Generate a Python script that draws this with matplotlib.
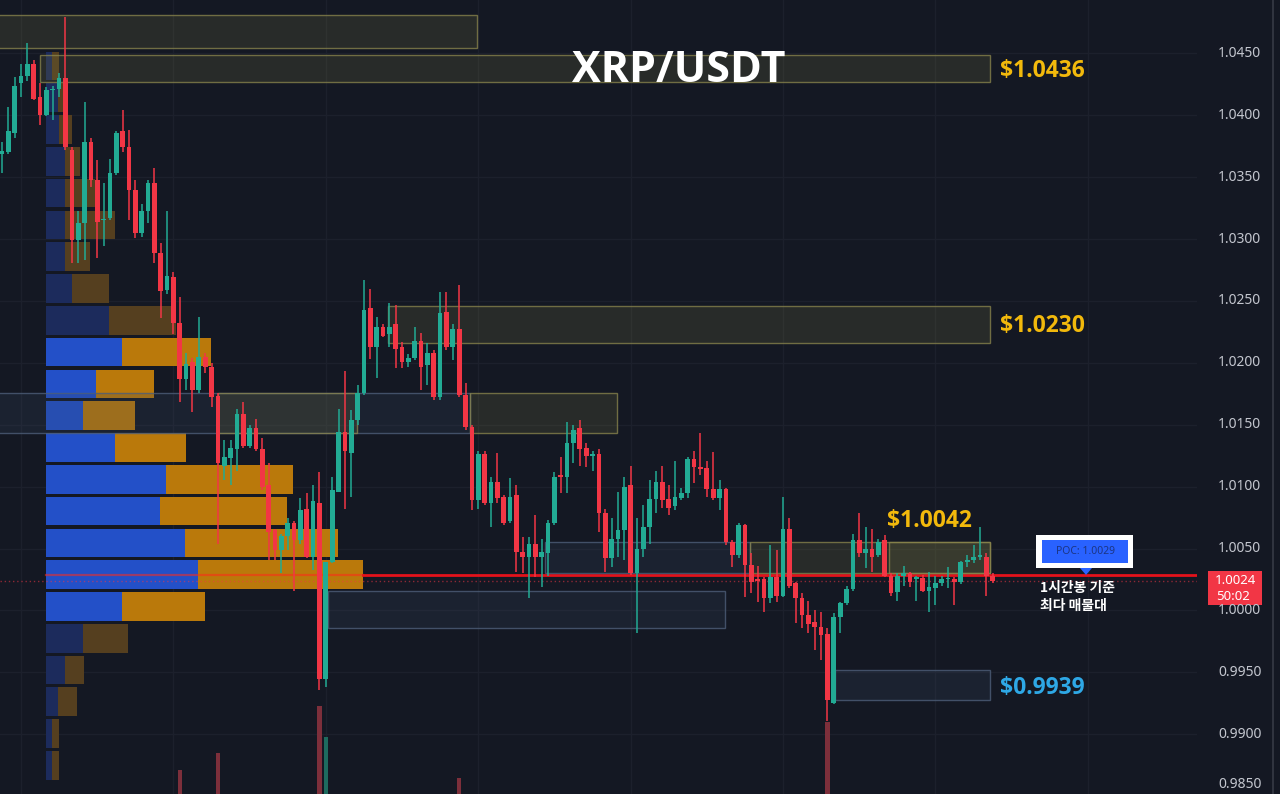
import matplotlib
matplotlib.use("Agg")
import matplotlib.pyplot as plt
from matplotlib.patches import Rectangle, Polygon
import numpy as np

# ---------------- data (1h candles, XRP/USDT) ----------------
OPEN = [1.0369, 1.0370, 1.0386, 1.0426, 1.0432, 1.0441, 1.0415, 1.0400, 1.0420, 1.0421,
        1.0430, 1.0372, 1.0299, 1.0313, 1.0378, 1.0348, 1.0315, 1.0317, 1.0353, 1.0387,
        1.0374, 1.0340, 1.0305, 1.0323, 1.0345, 1.0289, 1.0259, 1.0269, 1.0232, 1.0187,
        1.0201, 1.0178, 1.0205, 1.0197, 1.0173, 1.0117, 1.0123, 1.0130, 1.0159, 1.0133,
        1.0147, 1.0130, 1.0101, 1.0065, 1.0049, 1.0060, 1.0071, 1.0057, 1.0082, 1.0043,
        1.0087, 0.9945, 1.0039, 1.0096, 1.0144, 1.0127, 1.0154, 1.0176, 1.0244, 1.0213,
        1.0229, 1.0223, 1.0231, 1.0213, 1.0201, 1.0204, 1.0218, 1.0198, 1.0208, 1.0172,
        1.0241, 1.0213, 1.0227, 1.0174, 1.0148, 1.0089, 1.0126, 1.0087, 1.0104, 1.0092,
        1.0072, 1.0093, 1.0047, 1.0043, 1.0054, 1.0043, 1.0046, 1.0071, 1.0109, 1.0108,
        1.0135, 1.0147, 1.0131, 1.0125, 1.0126, 1.0079, 1.0042, 1.0058, 1.0065, 1.0101,
        1.0030, 1.0050, 1.0067, 1.0090, 1.0104, 1.0090, 1.0084, 1.0091, 1.0095, 1.0122,
        1.0116, 1.0115, 1.0098, 1.0091, 1.0098, 1.0055, 1.0045, 1.0069, 1.0037, 1.0025,
        1.0025, 1.0010, 1.0027, 1.0012, 1.0066, 1.0022, 1.0010, 0.9996, 0.9991, 0.9987,
        0.9981, 0.9925, 0.9995, 1.0006, 1.0017, 1.0057, 1.0046, 1.0050, 1.0045, 1.0057,
        1.0028, 1.0015, 1.0028, 1.0030, 1.0025, 1.0026, 1.0016, 1.0018, 1.0022, 1.0025,
        1.0025, 1.0023, 1.0039, 1.0041, 1.0043, 1.0043, 1.0028]
HIGH = [1.0378, 1.0407, 1.0431, 1.0441, 1.0458, 1.0445, 1.0426, 1.0423, 1.0424, 1.0434,
        1.0479, 1.0374, 1.0323, 1.0411, 1.0382, 1.0364, 1.0345, 1.0365, 1.0387, 1.0404,
        1.0388, 1.0348, 1.0328, 1.0348, 1.0357, 1.0297, 1.0323, 1.0273, 1.0253, 1.0208,
        1.0204, 1.0237, 1.0208, 1.0200, 1.0176, 1.0138, 1.0138, 1.0163, 1.0168, 1.0150,
        1.0155, 1.0139, 1.0119, 1.0066, 1.0062, 1.0075, 1.0072, 1.0091, 1.0095, 1.0101,
        1.0112, 1.0039, 1.0108, 1.0163, 1.0193, 1.0162, 1.0182, 1.0267, 1.0260, 1.0237,
        1.0231, 1.0248, 1.0247, 1.0217, 1.0207, 1.0229, 1.0224, 1.0216, 1.0210, 1.0257,
        1.0257, 1.0231, 1.0263, 1.0184, 1.0150, 1.0129, 1.0129, 1.0108, 1.0127, 1.0093,
        1.0107, 1.0101, 1.0059, 1.0059, 1.0077, 1.0058, 1.0073, 1.0112, 1.0124, 1.0152,
        1.0150, 1.0154, 1.0135, 1.0129, 1.0130, 1.0082, 1.0075, 1.0096, 1.0108, 1.0117,
        1.0075, 1.0085, 1.0105, 1.0113, 1.0117, 1.0101, 1.0121, 1.0099, 1.0124, 1.0129,
        1.0143, 1.0121, 1.0128, 1.0105, 1.0099, 1.0057, 1.0071, 1.0070, 1.0046, 1.0036,
        1.0027, 1.0053, 1.0049, 1.0092, 1.0075, 1.0023, 1.0014, 1.0008, 1.0000, 0.9999,
        0.9986, 0.9998, 1.0007, 1.0020, 1.0062, 1.0079, 1.0067, 1.0066, 1.0058, 1.0061,
        1.0030, 1.0030, 1.0036, 1.0031, 1.0028, 1.0029, 1.0031, 1.0028, 1.0028, 1.0035,
        1.0027, 1.0040, 1.0045, 1.0053, 1.0067, 1.0046, 1.0030]
LOW = [1.0353, 1.0369, 1.0382, 1.0415, 1.0428, 1.0412, 1.0392, 1.0399, 1.0396, 1.0415,
       1.0372, 1.0281, 1.0281, 1.0283, 1.0342, 1.0285, 1.0294, 1.0315, 1.0352, 1.0370,
       1.0315, 1.0301, 1.0302, 1.0313, 1.0281, 1.0236, 1.0256, 1.0223, 1.0168, 1.0178,
       1.0160, 1.0176, 1.0192, 1.0164, 1.0054, 1.0105, 1.0101, 1.0113, 1.0131, 1.0131,
       1.0129, 1.0097, 1.0041, 1.0041, 1.0030, 1.0049, 1.0016, 1.0054, 1.0042, 1.0033,
       0.9936, 0.9938, 1.0038, 1.0096, 1.0082, 1.0092, 1.0150, 1.0174, 1.0203, 1.0188,
       1.0221, 1.0213, 1.0196, 1.0196, 1.0197, 1.0202, 1.0178, 1.0182, 1.0170, 1.0170,
       1.0210, 1.0202, 1.0172, 1.0146, 1.0081, 1.0082, 1.0085, 1.0067, 1.0087, 1.0069,
       1.0071, 1.0031, 1.0030, 1.0010, 1.0027, 1.0019, 1.0028, 1.0069, 1.0095, 1.0095,
       1.0119, 1.0117, 1.0116, 1.0113, 1.0063, 1.0031, 1.0035, 1.0043, 1.0041, 1.0029,
       0.9982, 1.0043, 1.0054, 1.0079, 1.0083, 1.0077, 1.0081, 1.0089, 1.0091, 1.0103,
       1.0109, 1.0092, 1.0089, 1.0081, 1.0053, 1.0035, 1.0042, 1.0011, 1.0014, 1.0007,
       0.9999, 1.0006, 1.0007, 1.0011, 1.0018, 0.9990, 0.9986, 0.9982, 0.9968, 0.9960,
       0.9911, 0.9924, 0.9982, 1.0004, 1.0016, 1.0043, 1.0034, 1.0031, 1.0043, 1.0027,
       1.0012, 1.0008, 1.0020, 1.0019, 1.0008, 1.0015, 0.9999, 1.0004, 1.0020, 1.0018,
       1.0004, 1.0021, 1.0035, 1.0038, 1.0041, 1.0012, 1.0022]
CLOSE = [1.0371, 1.0387, 1.0424, 1.0432, 1.0441, 1.0413, 1.0400, 1.0420, 1.0421, 1.0430,
         1.0374, 1.0299, 1.0313, 1.0378, 1.0348, 1.0314, 1.0316, 1.0353, 1.0386, 1.0374,
         1.0340, 1.0305, 1.0323, 1.0345, 1.0289, 1.0258, 1.0270, 1.0232, 1.0187, 1.0199,
         1.0178, 1.0205, 1.0197, 1.0172, 1.0119, 1.0124, 1.0131, 1.0159, 1.0133, 1.0147,
         1.0130, 1.0100, 1.0063, 1.0049, 1.0060, 1.0071, 1.0057, 1.0081, 1.0043, 1.0088,
         0.9945, 1.0039, 1.0097, 1.0144, 1.0129, 1.0154, 1.0176, 1.0243, 1.0213, 1.0229,
         1.0222, 1.0229, 1.0211, 1.0201, 1.0204, 1.0218, 1.0197, 1.0208, 1.0172, 1.0240,
         1.0213, 1.0227, 1.0174, 1.0148, 1.0089, 1.0126, 1.0087, 1.0104, 1.0091, 1.0071,
         1.0092, 1.0047, 1.0043, 1.0054, 1.0043, 1.0047, 1.0071, 1.0108, 1.0108, 1.0135,
         1.0146, 1.0130, 1.0125, 1.0126, 1.0079, 1.0042, 1.0058, 1.0065, 1.0100, 1.0030,
         1.0050, 1.0067, 1.0090, 1.0104, 1.0089, 1.0083, 1.0092, 1.0095, 1.0122, 1.0116,
         1.0114, 1.0098, 1.0091, 1.0098, 1.0055, 1.0045, 1.0069, 1.0037, 1.0023, 1.0024,
         1.0010, 1.0027, 1.0012, 1.0066, 1.0020, 1.0010, 0.9996, 0.9989, 0.9987, 0.9980,
         0.9928, 0.9995, 1.0006, 1.0017, 1.0057, 1.0046, 1.0050, 1.0043, 1.0055, 1.0028,
         1.0014, 1.0028, 1.0030, 1.0023, 1.0027, 1.0016, 1.0019, 1.0022, 1.0025, 1.0026,
         1.0023, 1.0039, 1.0041, 1.0043, 1.0045, 1.0028, 1.0024]

# volume bars that rise above the bottom edge (candle index -> volume, K)
VOLUME_VISIBLE = {28: 448, 34: 482, 50: 578, 51: 514, 72: 432, 130: 545}
VOLUME_FLOOR = 400

# visible-range volume profile, 23 rows from the bottom up (K)
PROFILE_LOW = 0.9862
PROFILE_STEP = 0.002568
PROFILE_UP = [6, 6, 12, 19, 37, 76, 152, 139, 114, 120, 69, 37, 50, 76, 63, 26, 19, 19, 19, 19, 13, 12, 6]
PROFILE_DOWN = [7, 7, 19, 19, 45, 83, 165, 153, 127, 127, 71, 52, 58, 89, 67, 37, 25, 50, 30, 15, 13, 8, 7]
VALUE_AREA_ROWS = (5, 13)

POC = 1.0029
LAST = 1.0024
COUNTDOWN = "50:02"
TITLE = "XRP/USDT"

# zones: (start index, end index, low, high, kind)
ZONES = [
    (-1.0, 74.8, 1.0454, 1.0481, "olive"),
    (6.0, 155.6, 1.0427, 1.0449, "olive"),
    (60.8, 155.6, 1.0216, 1.0246, "olive"),
    (-1.0, 73.7, 1.0143, 1.0176, "blue"),
    (34.0, 55.9, 1.0143, 1.0176, "olive"),
    (73.7, 96.9, 1.0143, 1.0176, "olive"),
    (85.5, 117.8, 1.0030, 1.0055, "blue"),
    (117.8, 155.6, 1.0030, 1.0055, "olive"),
    (139.7, 155.6, 1.0030, 1.0055, "olive"),
    (51.3, 113.9, 0.9986, 1.0016, "blue"),
    (131.2, 155.6, 0.99275, 0.99517, "blue"),
]
LEVEL_LABELS = [("$1.0436", 155.6, 1.0436, "right", "#f2b90c"),
                ("$1.0230", 155.6, 1.0230, "right", "#f2b90c"),
                ("$1.0042", 146.0, 1.0055, "top", "#f2b90c"),
                ("$0.9939", 155.6, 0.9937, "right", "#2ea8e6")]
YTICKS = [0.985, 0.990, 0.995, 1.000, 1.005, 1.010, 1.015, 1.020, 1.025, 1.030, 1.035, 1.040, 1.045]

# ---------------- style ----------------
BG = "#141823"
GRID = "#1c202c"
UP = "#22ab94"
DOWN = "#f23645"
BOLD_FONT = ["Open Sans", "Liberation Sans", "DejaVu Sans"]
W, H = 1280, 794
fig = plt.figure(figsize=(W / 100, H / 100), dpi=100, facecolor=BG)

rect = [0, 0, 1197 / W, 1]
ax_bg = fig.add_axes(rect)
ax_p = fig.add_axes(rect)
ax = fig.add_axes(rect)
XL = (-0.315, 188.19)
YL = (0.98517, 1.04931)
for a in (ax_bg, ax_p, ax):
    a.set_ylim(*YL)
    a.patch.set_visible(False)
    a.set_axis_off()
ax_bg.set_xlim(*XL)
ax.set_xlim(*XL)
ax_p.set_xlim(-46, 1151)

# grid
for t in YTICKS:
    ax_bg.axhline(t, color=GRID, lw=1, zorder=0)
for gx in range(3, 190, 24):
    ax_bg.axvline(gx, color=GRID, lw=1, zorder=0)

# volume bars
ax_v = ax_bg.twinx()
ax_v.set_axis_off()
ax_v.set_ylim(VOLUME_FLOOR, VOLUME_FLOOR + 1600)
for i, v in VOLUME_VISIBLE.items():
    c = "#7d2f3b" if CLOSE[i] < OPEN[i] else "#1d6b5e"
    ax_v.bar(i, v - VOLUME_FLOOR, bottom=VOLUME_FLOOR, width=0.72, color=c, zorder=1)

# volume profile
n_rows = len(PROFILE_UP)
for r in range(n_rows):
    yc = PROFILE_LOW + PROFILE_STEP * (r + 0.5)
    inside = VALUE_AREA_ROWS[0] <= r <= VALUE_AREA_ROWS[1]
    cb = "#2350c8" if inside else "#1c2b5c"
    co = "#ba790b" if inside else "#553f1f"
    ax_p.barh(yc, PROFILE_UP[r], height=PROFILE_STEP * 0.9, left=0, color=cb, zorder=2)
    ax_p.barh(yc, PROFILE_DOWN[r], height=PROFILE_STEP * 0.9, left=PROFILE_UP[r], color=co, zorder=2)
poc_row = int(np.argmax(np.array(PROFILE_UP) + np.array(PROFILE_DOWN)))
poc_total = PROFILE_UP[poc_row] + PROFILE_DOWN[poc_row]
ax_p.plot([0, poc_total], [POC, POC], color="#ff2a1a", lw=1.6, alpha=0.55, zorder=3)
ax_p.plot([poc_total, 1151], [POC, POC], color="#e3121b", lw=2.0, zorder=3)

# zones
for x0, x1, lo, hi, kind in ZONES:
    if kind == "olive":
        fc, ec = (0.45, 0.45, 0.25, 0.22), (0.55, 0.53, 0.30, 0.75)
    else:
        fc, ec = (0.22, 0.28, 0.38, 0.22), (0.30, 0.37, 0.47, 0.8)
    ax.add_patch(Rectangle((x0, lo), x1 - x0, hi - lo, facecolor=fc, edgecolor=ec, lw=1, zorder=1))

# last price dotted line
ax.axhline(LAST, color=DOWN, lw=1, ls=(0, (1, 2)), alpha=0.55, zorder=1.5)

# candles
for i, (o, h, l, c) in enumerate(zip(OPEN, HIGH, LOW, CLOSE)):
    col = UP if c >= o else DOWN
    ax.vlines(i, l, h, color=col, lw=1.1, zorder=3)
    lo_b = min(o, c)
    hb = max(abs(c - o), 0.00009)
    ax.add_patch(Rectangle((i - 0.37, lo_b), 0.74, hb, facecolor=col, edgecolor="none", zorder=4))

# level labels
for txt, xi, yv, pos, col in LEVEL_LABELS:
    if pos == "right":
        ax.annotate(txt, (xi, yv), xytext=(7, 0), textcoords="offset points", va="center", ha="left",
                    color=col, fontsize=16.5, fontweight="bold", family=BOLD_FONT, zorder=6,
                    annotation_clip=False)
    else:
        ax.annotate(txt, (xi, yv), xytext=(0, 7), textcoords="offset points", va="bottom", ha="center",
                    color=col, fontsize=16.5, fontweight="bold", family=BOLD_FONT, zorder=6)

# title
fig.text(679 / W, 1 - 70 / H, TITLE, ha="center", va="center", color="white",
         fontsize=31, fontweight="bold", family=BOLD_FONT)


def fy(p):
    return (p - YL[0]) / (YL[1] - YL[0])


# price scale labels (the lowest one sits at the bottom edge)
for t in YTICKS:
    yy = max(fy(t), 1 - 784 / H)
    fig.text(1218 / W, yy, f"{t:.4f}", ha="left", va="center", color="#c3c6ce",
             fontsize=10, family="Noto Sans")

# right border line
fig.add_artist(plt.Line2D([1273 / W, 1273 / W], [0, 1], color="#363a45", lw=1.2))

# last price box
fig.add_artist(Rectangle((1208 / W, 1 - 605 / H), 54 / W, 34 / H, facecolor=DOWN, edgecolor="none",
                         transform=fig.transFigure))
fig.text(1235 / W, 1 - 580 / H, f"{LAST:.4f}", ha="center", va="center", color="white",
         fontsize=9.5, family="Noto Sans", fontweight="bold")
fig.text(1233 / W, 1 - 596 / H, COUNTDOWN, ha="center", va="center", color="white",
         fontsize=9.5, family="Noto Sans")

# POC callout
fig.add_artist(Rectangle((1036 / W, 1 - 568 / H), 97 / W, 33 / H, facecolor="white", edgecolor="none",
                         transform=fig.transFigure))
fig.add_artist(Rectangle((1042 / W, 1 - 563 / H), 86 / W, 23 / H, facecolor="#2962ff", edgecolor="none",
                         transform=fig.transFigure))
fig.text(1085 / W, 1 - 551.5 / H, f"POC: {POC:.4f}", ha="center", va="center", color="#1c3584",
         fontsize=7.5, family="Noto Sans")
fig.add_artist(Polygon([[1080 / W, 1 - 568 / H], [1092 / W, 1 - 568 / H], [1086 / W, 1 - 575 / H]],
                       closed=True, facecolor="#2962ff", edgecolor="none", transform=fig.transFigure))
fig.text(1040 / W, 1 - 588 / H, "1시간봉 기준", ha="left", va="center", color="white",
         fontsize=10, family=["Noto Sans CJK KR", "DejaVu Sans"], fontweight="bold")
fig.text(1040 / W, 1 - 606 / H, "최다 매물대", ha="left", va="center", color="white",
         fontsize=10, family=["Noto Sans CJK KR", "DejaVu Sans"], fontweight="bold")

fig.savefig("out.png", dpi=100, facecolor=BG)
